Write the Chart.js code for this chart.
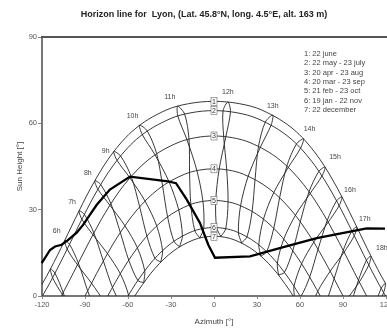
<!DOCTYPE html>
<html><head><meta charset="utf-8">
<script src="https://cdn.jsdelivr.net/npm/chart.js@4.4.1/dist/chart.umd.min.js"></script>
<style>html,body{margin:0;padding:0;background:#fff;}#wrap{width:387px;height:331px;}</style>
</head><body><div id="wrap"><canvas id="c" width="387" height="331"></canvas></div>
<script>
const FONT = '"Liberation Sans", Arial, sans-serif';
const titleText = 'Horizon line for  Lyon, (Lat. 45.8°N, long. 4.5°E, alt. 163 m)';
const xTitle = 'Azimuth [°]';
const yTitle = 'Sun Height [°]';
const xTicks = [-120, -90, -60, -30, 0, 30, 60, 90, 120];
const yTicks = [0, 30, 60, 90];
const legendLines = ['1: 22 june', '2: 22 may - 23 july', '3: 20 apr - 23 aug', '4: 20 mar - 23 sep',
  '5: 21 feb - 23 oct', '6: 19 jan - 22 nov', '7: 22 december'];

// horizon profile (azimuth, height)
const horizonAz = [-123.7, -120.2, -114.4, -110.9, -106.3, -101.7, -95.8, -91.2, -86.5, -81.8, -72.6, -58.6,
  -32.1, -26.5, -19.0, -9.8, -4.0, 0.7, 25.1, 48.4, 71.7, 94.9, 106.5, 119.3];
const horizonH = [8.8, 11.4, 16.0, 17.2, 17.8, 19.5, 22.0, 24.8, 28.3, 31.7, 37.0, 41.5,
  39.8, 39.2, 33.5, 25.4, 17.8, 13.3, 13.8, 17.0, 20.1, 22.4, 23.5, 23.4];

// sun paths [azimuth, height]
const path1 = [[-124.79,0],[-116.80,6.87],[-106.82,16.57],[-96.89,26.79],[-86.29,37.23],[-73.86,47.51],[-57.50,57.04],[-33.55,64.57],[-17.72,66.83],[0,67.64],[17.72,66.83],[33.55,64.57],[57.50,57.04],[73.86,47.51],[86.29,37.23],[96.89,26.79],[106.82,16.57],[116.80,6.87],[124.79,0]];
const path2 = [[-119.69,0],[-114.59,4.49],[-104.39,14.33],[-94.20,24.64],[-83.29,35.08],[-70.50,45.25],[-53.92,54.51],[-30.70,61.57],[-16.03,63.67],[0,64.42],[16.03,63.67],[30.70,61.57],[53.92,54.51],[70.50,45.25],[83.29,35.08],[94.20,24.64],[104.39,14.33],[114.59,4.49],[119.69,0]];
const path3 = [[-106.47,0],[-98.00,8.15],[-87.33,18.58],[-75.88,28.91],[-62.61,38.68],[-46.15,47.19],[-25.12,53.31],[-12.89,55.01],[0,55.60],[12.89,55.01],[25.12,53.31],[46.15,47.19],[62.61,38.68],[75.88,28.91],[87.33,18.58],[98.00,8.15],[106.47,0]];
const path4 = [[-90,0],[-79.13,10.40],[-67.51,20.40],[-54.36,29.54],[-38.85,37.14],[-20.49,42.33],[-10.41,43.73],[0,44.20],[10.41,43.73],[20.49,42.33],[38.85,37.14],[54.36,29.54],[67.51,20.40],[79.13,10.40],[90,0]];
const path5 = [[-74.12,0],[-71.62,2.31],[-60.30,11.85],[-47.74,20.31],[-33.47,27.12],[-17.36,31.62],[-8.77,32.80],[0,33.20],[8.77,32.80],[17.36,31.62],[33.47,27.12],[47.74,20.31],[60.30,11.85],[71.62,2.31],[74.12,0]];
const path6 = [[-60.0,0],[-54.50,4.41],[-42.70,12.25],[-29.60,18.42],[-15.21,22.41],[-7.66,23.45],[0,23.80],[7.66,23.45],[15.21,22.41],[29.60,18.42],[42.70,12.25],[54.50,4.41],[60.0,0]];
const path7 = [[-55.21,0],[-52.66,1.99],[-41.15,9.62],[-28.44,15.59],[-14.58,19.43],[-7.34,20.43],[0,20.76],[7.34,20.43],[14.58,19.43],[28.44,15.59],[41.15,9.62],[52.66,1.99],[55.21,0]];
const pathNames = ['1','2','3','4','5','6','7'];

// hour lines (analemma loops) [azimuth, height]
const hour5 = [[-98.96,-8.6],[-105.22,1.17],[-110.92,7.91],[-114.07,9.42],[-112.59,6.34],[-105.85,0.58],[-96.2,-6.0]];
const hour6 = [[-81.54,-7.14],[-88.14,1.81],[-94.64,11.46],[-100.8,17.96],[-104.16,19.29],[-102.44,16.30],[-95.26,10.85],[-85.42,4.44],[-76.35,-2.11]];
const hour7 = [[-59.84,-3.87],[-64.02,-3.50],[-70.85,3.01],[-77.19,12.17],[-83.81,21.90],[-90.45,28.35],[-94.13,29.60],[-92.18,26.66],[-84.47,21.29],[-74.32,14.72],[-65.40,7.76],[-59.63,0.31],[-59.84,-3.87]];
const hour8 = [[-49.02,4.63],[-53.14,5.42],[-59.48,12.48],[-65.36,22.07],[-71.93,32.09],[-79.06,38.73],[-83.16,40.05],[-81.01,37.08],[-72.64,31.54],[-62.17,24.42],[-53.46,16.76],[-48.36,8.77],[-49.02,4.63]];
const hour9 = [[-37.13,11.78],[-41.20,13.09],[-46.82,20.84],[-51.86,30.99],[-57.79,41.57],[-65.19,48.68],[-69.93,50.21],[-67.66,47.14],[-58.68,41.06],[-48.11,33.00],[-39.98,24.37],[-35.89,15.78],[-37.13,11.78]];
const hour10 = [[-24.03,17.10],[-27.94,19.03],[-32.39,27.52],[-35.87,38.24],[-40.00,49.46],[-46.58,57.37],[-51.96,59.35],[-50.04,56.10],[-41.16,49.06],[-31.38,39.70],[-24.65,29.97],[-22.07,20.85],[-24.03,17.10]];
const hour11 = [[-9.87,20.16],[-13.42,22.72],[-16.17,31.83],[-17.05,42.92],[-17.44,54.52],[-20.46,63.19],[-25.31,65.94],[-25.25,62.55],[-18.88,54.33],[-11.94,43.58],[-7.72,32.89],[-7.15,23.50],[-9.87,20.16]];
const hour12 = [[4.80,20.62],[1.84,23.78],[1.23,33.19],[3.62,44.14],[8.26,55.36],[11.48,64.03],[9.71,67.41],[6.28,64.28],[6.75,55.44],[8.86,43.85],[9.81,32.70],[8.17,23.40],[4.80,20.62]];
const hour13 = [[19.22,18.44],[17.00,22.07],[18.54,31.39],[23.87,41.65],[32.37,51.71],[39.88,59.45],[41.00,62.85],[35.83,60.47],[31.06,52.03],[28.64,40.48],[26.59,29.42],[23.03,20.59],[19.22,18.44]];
const hour14 = [[32.73,13.85],[31.25,17.79],[34.53,26.71],[41.73,35.97],[51.83,44.67],[60.41,51.39],[62.48,54.60],[57.54,52.83],[50.83,45.15],[45.79,34.14],[41.69,23.55],[36.76,15.37],[32.73,13.85]];
const hour15 = [[45.03,7.29],[44.18,11.39],[48.67,19.77],[56.79,28.04],[67.11,35.66],[75.34,41.71],[77.49,44.78],[73.19,43.33],[66.31,36.23],[60.20,25.80],[54.96,15.74],[49.15,8.24],[45.03,7.29]];
const hour16 = [[56.20,-0.79],[55.84,3.38],[61.13,11.21],[69.62,18.71],[79.67,25.65],[87.31,31.38],[89.27,34.41],[85.50,33.07],[79.0,26.25],[72.59,16.22],[66.75,6.61],[60.35,-0.29],[56.20,-0.79]];
const hour17 = [[66.52,-5.78],[72.37,1.62],[81.04,8.61],[90.78,15.25],[97.86,20.94],[99.60,23.99],[96.20,22.63],[90.15,15.86],[83.80,6.00],[77.63,-3.33]];
const hour18 = [[83.02,-8.59],[91.86,-1.81],[101.37,4.86],[107.98,10.76],[109.48,13.89],[106.34,12.38],[100.75,5.46],[94.58,-4.44]];
const hour19 = [[112.16,-5.14],[118.33,1.16],[119.57,4.38],[116.61,2.66],[111.51,-4.57]];
const hourNames = ['', '6h', '7h', '8h', '9h', '10h', '11h', '12h', '13h', '14h', '15h', '16h', '17h', '18h', ''];

// label placement (pixel offsets from each hour line's top point) - style only
const hourLabelOffsets = [[0,0],[-8,-9],[-7,-9],[-7,-8],[-8,0],[-7,-9],[-8,-9],[0,-10],[0,-9],[6,-10],[10,-10],[8,-7],[8,-8],[11,-8],[0,0]];

const LINE = 'rgba(35,35,35,0.9)';
const toXY = arr => arr.map(p => ({x: p[0], y: p[1]}));
const hours = [hour5, hour6, hour7, hour8, hour9, hour10, hour11, hour12, hour13, hour14, hour15, hour16, hour17, hour18, hour19];
const paths = [path1, path2, path3, path4, path5, path6, path7];

const datasets = [];
datasets.push({label: 'horizon', data: horizonAz.map((a, i) => ({x: a, y: horizonH[i]})), showLine: true,
  borderColor: '#000', borderWidth: 2.3, pointRadius: 0, tension: 0, clip: false});
paths.forEach((p, i) => datasets.push({label: 'path' + pathNames[i], data: toXY(p), showLine: true,
  borderColor: LINE, borderWidth: 1, pointRadius: 0, cubicInterpolationMode: 'monotone'}));
hours.forEach((h, i) => datasets.push({label: 'hour' + i, data: toXY(h), showLine: true,
  borderColor: LINE, borderWidth: 1, pointRadius: 0, tension: 0.3}));

const overlay = {
  id: 'overlay',
  afterDraw(chart) {
    const {ctx, chartArea: ca, scales: {x, y}} = chart;
    ctx.save();
    // top frame line
    ctx.strokeStyle = '#555'; ctx.lineWidth = 2;
    ctx.beginPath(); ctx.moveTo(ca.left - 1, ca.top); ctx.lineTo(ca.right + 2, ca.top); ctx.stroke();
    // curve numbers at noon
    ctx.font = '7px ' + FONT; ctx.textAlign = 'center'; ctx.textBaseline = 'middle';
    paths.forEach((p, i) => {
      const noon = p.find(q => q[0] === 0);
      const px = x.getPixelForValue(noon[0]), py = y.getPixelForValue(noon[1]);
      ctx.fillStyle = '#fff'; ctx.fillRect(px - 3, py - 4, 6, 8);
      ctx.strokeStyle = '#666'; ctx.lineWidth = 0.6; ctx.strokeRect(px - 3, py - 4, 6, 8);
      ctx.fillStyle = '#333'; ctx.fillText(pathNames[i], px, py + 0.5);
    });
    // hour labels
    hours.forEach((h, i) => {
      if (!hourNames[i]) return;
      let top = h[0];
      h.forEach(q => { if (q[1] > top[1]) top = q; });
      const px = x.getPixelForValue(top[0]) + hourLabelOffsets[i][0];
      const py = y.getPixelForValue(top[1]) + hourLabelOffsets[i][1];
      ctx.fillStyle = '#444'; ctx.fillText(hourNames[i], px, py);
    });
    // legend text
    ctx.font = '7.5px ' + FONT; ctx.textAlign = 'left'; ctx.fillStyle = '#444';
    legendLines.forEach((t, i) => ctx.fillText(t, 304, 54 + i * 9.3));
    // title
    ctx.font = 'bold 9px ' + FONT; ctx.textAlign = 'center'; ctx.fillStyle = '#222';
    ctx.fillText(titleText, 204, 15);
    // axis titles
    ctx.font = '8px ' + FONT; ctx.fillStyle = '#444';
    ctx.fillText(xTitle, (ca.left + ca.right) / 2, 322);
    ctx.translate(20, (ca.top + ca.bottom) / 2); ctx.rotate(-Math.PI / 2);
    ctx.fillText(yTitle, 0, 0);
    ctx.restore();
  }
};

new Chart(document.getElementById('c'), {
  type: 'scatter',
  data: {datasets},
  options: {
    responsive: false, devicePixelRatio: 1, animation: false,
    layout: {padding: {top: 37, right: 1, left: 0, bottom: 0}},
    plugins: {legend: {display: false}, tooltip: {enabled: false}, title: {display: false}},
    scales: {
      x: {
        type: 'linear', min: -120, max: 120,
        afterBuildTicks: s => { s.ticks = xTicks.map(v => ({value: v})); },
        ticks: {font: {size: 7.5, family: FONT}, color: '#555', maxRotation: 0, padding: 1},
        grid: {drawOnChartArea: false, drawTicks: true, tickLength: 3, color: '#888'},
        border: {color: '#777', width: 2},
        afterFit: s => { s.height = 35; s.paddingLeft = 0; s.paddingRight = 0; }
      },
      y: {
        type: 'linear', min: 0, max: 90,
        afterBuildTicks: s => { s.ticks = yTicks.map(v => ({value: v})); },
        ticks: {font: {size: 7.5, family: FONT}, color: '#555', padding: 1},
        grid: {drawOnChartArea: false, drawTicks: true, tickLength: 4, color: '#888'},
        border: {color: '#777', width: 2},
        afterFit: s => { s.width = 42; s.paddingTop = 0; s.paddingBottom = 0; }
      }
    }
  },
  plugins: [overlay]
});
</script></body></html>
